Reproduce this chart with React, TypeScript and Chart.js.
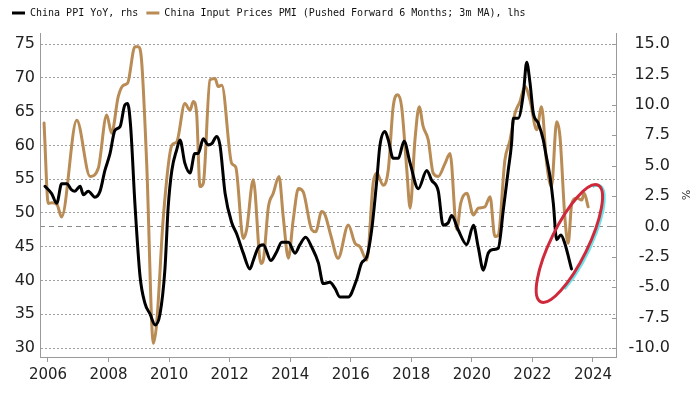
import React, { useEffect, useRef } from 'react';
import { Chart, registerables } from 'chart.js';

Chart.register(...registerables);

// ---- Data ----
const legendLabels = [
  'China PPI YoY, rhs',
  'China Input Prices PMI (Pushed Forward 6 Months; 3m MA), lhs',
];

// China PPI YoY (%), right axis
const ppiDates = [
  2005.9, 2006.12, 2006.29, 2006.45, 2006.62, 2006.78, 2006.89, 2007.06, 2007.17, 2007.33,
  2007.55, 2007.72, 2007.88, 2008.05, 2008.21, 2008.38, 2008.54, 2008.63, 2008.73, 2008.87,
  2009.04, 2009.2, 2009.37, 2009.54, 2009.7, 2009.86, 2009.97, 2010.09, 2010.25, 2010.36,
  2010.52, 2010.69, 2010.85, 2010.96, 2011.13, 2011.29, 2011.41, 2011.57, 2011.68, 2011.85,
  2012.07, 2012.23, 2012.45, 2012.67, 2012.78, 2012.95, 2013.11, 2013.36, 2013.55, 2013.72,
  2013.94, 2014.16, 2014.32, 2014.51, 2014.71, 2014.93, 2015.09, 2015.31, 2015.48, 2015.64,
  2015.92, 2016.19, 2016.36, 2016.53, 2016.69, 2016.86, 2016.96, 2017.13, 2017.24, 2017.4,
  2017.57, 2017.76, 2017.96, 2018.23, 2018.51, 2018.67, 2018.89, 2019.05, 2019.22, 2019.33,
  2019.55, 2019.83, 2020.05, 2020.21, 2020.38, 2020.54, 2020.71, 2020.87, 2021.04, 2021.2,
  2021.31, 2021.37, 2021.53, 2021.7, 2021.81, 2021.92, 2022.03, 2022.19, 2022.36, 2022.44,
  2022.58, 2022.69, 2022.8, 2022.94, 2023.07, 2023.29,
];
const ppiValues = [
  3.3, 2.7, 1.9, 3.5, 3.5, 3.0, 2.9, 3.3, 2.6, 2.9,
  2.4, 2.9, 4.6, 6.0, 7.9, 8.2, 10.0, 10.1, 8.2, 1.9,
  -4.1, -6.3, -7.2, -8.1, -7.2, -3.6, 1.6, 4.6, 6.3, 7.1,
  5.2, 4.4, 6.0, 6.0, 7.2, 6.7, 6.8, 7.4, 6.7, 2.7,
  0.3, -0.6, -2.2, -3.5, -2.8, -1.7, -1.5, -2.8, -2.1, -1.3,
  -1.3, -2.2, -1.5, -0.9, -1.7, -3.0, -4.7, -4.6, -5.1, -5.8,
  -5.8, -4.4, -3.0, -2.5, -0.3, 3.8, 6.6, 7.8, 7.1, 5.6,
  5.6, 7.0, 5.2, 3.1, 4.6, 3.8, 2.9, 0.1, 0.3, 0.9,
  -0.3, -1.5, 0.1, -1.7, -3.6, -2.2, -1.9, -1.8, 1.4, 4.6,
  6.8, 8.9, 8.9, 10.9, 13.5, 11.8, 9.3, 8.5, 7.1, 6.0,
  4.1, 1.9, -1.1, -0.7, -1.4, -3.5,
];

// China Input Prices PMI (pushed forward 6 months, 3m MA), left axis
const pmiDates = [
  2005.87, 2006.01, 2006.13, 2006.3, 2006.45, 2006.95, 2007.39, 2007.66, 2007.94, 2008.1,
  2008.32, 2008.49, 2008.63, 2008.87, 2008.98, 2009.09, 2009.26, 2009.48, 2009.59, 2009.81,
  2010.09, 2010.25, 2010.52, 2010.69, 2010.8, 2010.91, 2011.02, 2011.13, 2011.35, 2011.52,
  2011.62, 2011.74, 2012.07, 2012.2, 2012.45, 2012.56, 2012.78, 2013.03, 2013.11, 2013.28,
  2013.44, 2013.63, 2013.77, 2013.94, 2014.1, 2014.27, 2014.43, 2014.71, 2014.84, 2015.04,
  2015.15, 2015.35, 2015.58, 2015.92, 2016.14, 2016.3, 2016.53, 2016.74, 2016.86, 2017.07,
  2017.24, 2017.4, 2017.55, 2017.68, 2017.85, 2017.96, 2018.12, 2018.26, 2018.39, 2018.56,
  2018.72, 2018.89, 2019.11, 2019.28, 2019.5, 2019.63, 2019.83, 2020.05, 2020.21, 2020.43,
  2020.6, 2020.76, 2020.87, 2021.09, 2021.26, 2021.42, 2021.59, 2021.75, 2021.92, 2022.14,
  2022.3, 2022.47, 2022.63, 2022.8, 2022.91, 2023.07, 2023.18, 2023.3, 2023.46, 2023.63,
  2023.71, 2023.84,
];
const pmiValues = [
  63.3, 51.4, 51.5, 51.2, 49.4, 63.7, 55.4, 56.6, 64.5, 61.8,
  67.2, 68.9, 69.2, 74.6, 74.6, 72.6, 57.3, 30.7, 33.7, 49.4,
  60.0, 60.5, 66.2, 65.2, 66.5, 64.7, 53.9, 54.4, 69.7, 69.9,
  68.7, 68.9, 57.3, 56.8, 46.2, 47.5, 54.9, 42.5, 43.0, 50.9,
  52.9, 55.4, 49.4, 43.3, 49.0, 53.6, 53.1, 47.5, 47.2, 50.2,
  49.7, 46.5, 43.3, 48.2, 45.5, 45.0, 43.0, 54.4, 55.9, 54.1,
  56.4, 65.7, 67.5, 65.7, 56.4, 50.7, 60.8, 65.7, 62.8, 60.8,
  55.9, 55.4, 57.3, 58.8, 47.5, 51.4, 52.9, 49.7, 50.7, 50.9,
  52.4, 46.5, 46.7, 57.8, 60.8, 64.7, 66.5, 68.7, 66.7, 62.3,
  65.7, 57.3, 53.9, 63.5, 61.3, 49.4, 45.5, 51.4, 52.2, 51.9,
  52.9, 50.9,
];

const xTicks = [2006, 2008, 2010, 2012, 2014, 2016, 2018, 2020, 2022, 2024];
const leftTicks = [30, 35, 40, 45, 50, 55, 60, 65, 70, 75];
const rightTicks = [-10, -7.5, -5, -2.5, 0, 2.5, 5, 7.5, 10, 12.5, 15];
const rightUnit = '%';

// Annotation: highlight ellipse centre, in data units (x year, right-axis value)
const highlightCenter = { x: 2023.22, y: -1.41 };

const GOLD = '#b98b55';
const AXIS = '#9a9a9a';
const TEXT = '#222222';

const ellipsePlugin = {
  id: 'highlightEllipse',
  afterDatasetsDraw(chart: any) {
    const { ctx, scales } = chart;
    const cx = scales.x.getPixelForValue(highlightCenter.x);
    const cy = scales.y1.getPixelForValue(highlightCenter.y);
    const rx = 65;
    const ry = 18.5;
    const rot = -1.114;
    ctx.save();
    ctx.lineWidth = 3;
    ctx.strokeStyle = 'rgba(95,225,232,0.95)';
    ctx.beginPath();
    ctx.ellipse(cx + 1.8, cy + 0.6, rx, ry, rot, -0.35, 2.3);
    ctx.stroke();
    ctx.strokeStyle = '#cf2a3c';
    ctx.beginPath();
    ctx.ellipse(cx, cy, rx, ry, rot, 0, Math.PI * 2);
    ctx.stroke();
    ctx.restore();
  },
};

const innerTickPlugin = {
  id: 'rightInnerTicks',
  afterDraw(chart: any) {
    const { ctx } = chart;
    const s = chart.scales.y1;
    const xEdge = chart.chartArea.right;
    ctx.save();
    ctx.strokeStyle = AXIS;
    ctx.lineWidth = 1;
    s.ticks.forEach((t: any) => {
      const y = Math.round(s.getPixelForValue(t.value)) + 0.5;
      ctx.beginPath();
      ctx.moveTo(xEdge - 4, y);
      ctx.lineTo(xEdge, y);
      ctx.stroke();
    });
    ctx.restore();
  },
};

export default function App() {
  const canvasRef = useRef<HTMLCanvasElement | null>(null);

  useEffect(() => {
    document.body.style.margin = '0';
    const canvas = canvasRef.current;
    if (!canvas) return;

    const chart = new Chart(canvas, {
      type: 'line',
      data: {
        datasets: [
          {
            label: legendLabels[0],
            data: ppiDates.map((x, i) => ({ x, y: ppiValues[i] })),
            xAxisID: 'x',
            yAxisID: 'y1',
            borderColor: '#000000',
            backgroundColor: '#000000',
            borderWidth: 3,
            pointRadius: 0,
            cubicInterpolationMode: 'monotone',
            borderJoinStyle: 'round',
            borderCapStyle: 'round',
          },
          {
            label: legendLabels[1],
            data: pmiDates.map((x, i) => ({ x, y: pmiValues[i] })),
            xAxisID: 'x',
            yAxisID: 'y',
            borderColor: GOLD,
            backgroundColor: GOLD,
            borderWidth: 3,
            pointRadius: 0,
            cubicInterpolationMode: 'monotone',
            borderJoinStyle: 'round',
            borderCapStyle: 'round',
          },
        ],
      },
      options: {
        responsive: false,
        animation: false,
        events: [],
        layout: { padding: { left: 4, top: 0, right: 30, bottom: 0 } },
        plugins: {
          tooltip: { enabled: false },
          legend: {
            display: true,
            position: 'top',
            align: 'start',
            labels: {
              font: { family: 'DejaVu Sans Mono', size: 10 },
              color: '#111111',
              boxWidth: 13,
              boxHeight: 3,
              padding: 8,
              generateLabels: (c: any) =>
                Chart.defaults.plugins.legend.labels
                  .generateLabels(c)
                  .map((l: any) => ({ ...l, lineWidth: 0 })),
            },
          },
        },
        scales: {
          x: {
            type: 'linear',
            position: 'bottom',
            min: 2005.736,
            max: 2024.76,
            afterBuildTicks: (s: any) => {
              s.ticks = xTicks.map((v) => ({ value: v }));
            },
            afterFit: (s: any) => {
              s.height = 37;
            },
            ticks: {
              callback: (v: any) => String(v),
              font: { family: 'DejaVu Sans', size: 15 },
              color: TEXT,
              padding: 4,
              maxRotation: 0,
              autoSkip: false,
            },
            grid: { drawOnChartArea: false, color: AXIS, tickLength: 5 },
            border: { color: AXIS },
          },
          padTop: {
            type: 'linear',
            position: 'top',
            display: true,
            ticks: { display: false },
            grid: { display: false },
            border: { display: false },
            afterFit: (s: any) => {
              s.height = 5;
            },
          },
          y: {
            type: 'linear',
            position: 'left',
            min: 28.67,
            max: 76.63,
            afterBuildTicks: (s: any) => {
              s.ticks = leftTicks.map((v) => ({ value: v }));
            },
            afterFit: (s: any) => {
              s.width = 36;
            },
            ticks: {
              font: { family: 'DejaVu Sans', size: 16 },
              color: TEXT,
              padding: 5,
            },
            grid: { color: '#a0a0a0', drawTicks: false, lineWidth: 1 },
            border: { color: AXIS, dash: [2, 2] },
          },
          y1: {
            type: 'linear',
            position: 'right',
            min: -10.74,
            max: 15.905,
            afterBuildTicks: (s: any) => {
              s.ticks = rightTicks.map((v) => ({ value: v }));
            },
            afterFit: (s: any) => {
              s.width = 54;
            },
            ticks: {
              callback: (v: any) => Number(v).toFixed(1),
              font: { family: 'DejaVu Sans', size: 16 },
              color: TEXT,
              padding: 10,
              crossAlign: 'far',
            },
            title: {
              display: true,
              text: rightUnit,
              font: { family: 'DejaVu Sans', size: 11 },
              color: '#333333',
              padding: { top: -21, bottom: 0 },
            },
            grid: {
              drawTicks: false,
              lineWidth: 1,
              color: (ctx: any) =>
                ctx.tick && ctx.tick.value === 0 ? '#8a8a8a' : 'rgba(0,0,0,0)',
            },
            border: { color: AXIS, dash: [5, 4] },
          },
        },
      },
      plugins: [ellipsePlugin, innerTickPlugin],
    } as any);

    return () => {
      chart.destroy();
    };
  }, []);

  return (
    <div style={{ width: 700, height: 394, background: '#ffffff' }}>
      <canvas ref={canvasRef} width={700} height={394} style={{ display: 'block' }} />
    </div>
  );
}
